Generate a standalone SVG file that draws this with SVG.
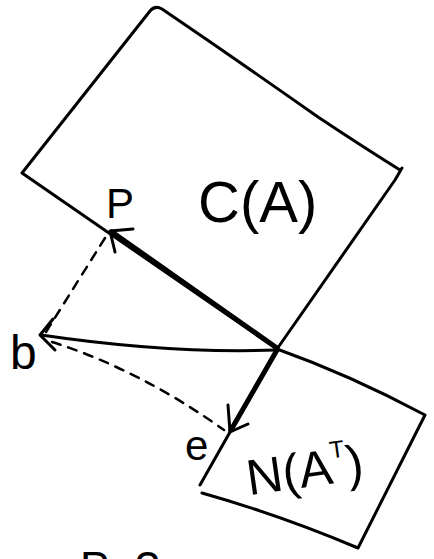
<svg xmlns="http://www.w3.org/2000/svg" width="434" height="559" viewBox="0 0 434 559">
<style>
.edge{fill:none;stroke:#000;stroke-width:3;stroke-linecap:round;stroke-linejoin:round}
.lbl{font-family:"Liberation Sans",Arial,sans-serif;fill:#000}
.thick{fill:none;stroke:#000;stroke-width:5;stroke-linecap:round}
.mid{fill:none;stroke:#000;stroke-width:3;stroke-linecap:round}
.head{fill:none;stroke:#000;stroke-width:3;stroke-linecap:round;stroke-linejoin:round}
.dash{fill:none;stroke:#000;stroke-width:2.5;stroke-dasharray:9 8;stroke-linecap:round}
</style>
<rect width="434" height="559" fill="#fff"/>
<g id="colspace">
<path class="edge" d="M22,173 L150,11 Q155,5 162,9 Q240,62 318,117 Q360,145 400,170 M402,168 L395,180 L277,349 M22,173 L277,349"/>
<text class="lbl" x="198" y="222" font-size="58">C(A)</text>
</g>
<g id="nullspace">
<path class="edge" d="M277,349 Q350,375 425,415 L358,548 M358,548 Q280,515 202,493 M200,485 L277,349"/>
<text class="lbl" x="246" y="488" font-size="50" transform="rotate(-8 300 470)">N(A<tspan font-size="24" dy="-25">T</tspan><tspan dy="25">)</tspan></text>
</g>
<g id="label-p"><text class="lbl" x="106" y="218" font-size="42">P</text></g>
<g id="label-b"><text class="lbl" x="10" y="369" font-size="48">b</text></g>
<g id="label-e"><text class="lbl" x="185" y="460" font-size="42">e</text></g>
<g id="label-bottom"><text class="lbl" x="80" y="583" font-size="44">P=?</text></g>
<g id="connectors">
<path class="thick" d="M277,348 L112,232"/>
<path class="head" d="M133,229 L110,231 L115,252"/>
<path class="mid" d="M277,350 Q170,354 41,335"/>
<path class="head" d="M53,319 L40,335 L55,350"/>
<path class="thick" d="M277,350 L231,430"/>
<path class="head" d="M228,405 L230,432 L248,424"/>
<path class="dash" d="M105,238 L46,332"/>
<path class="dash" d="M52,342 Q140,370 224,430"/>
</g>
</svg>
